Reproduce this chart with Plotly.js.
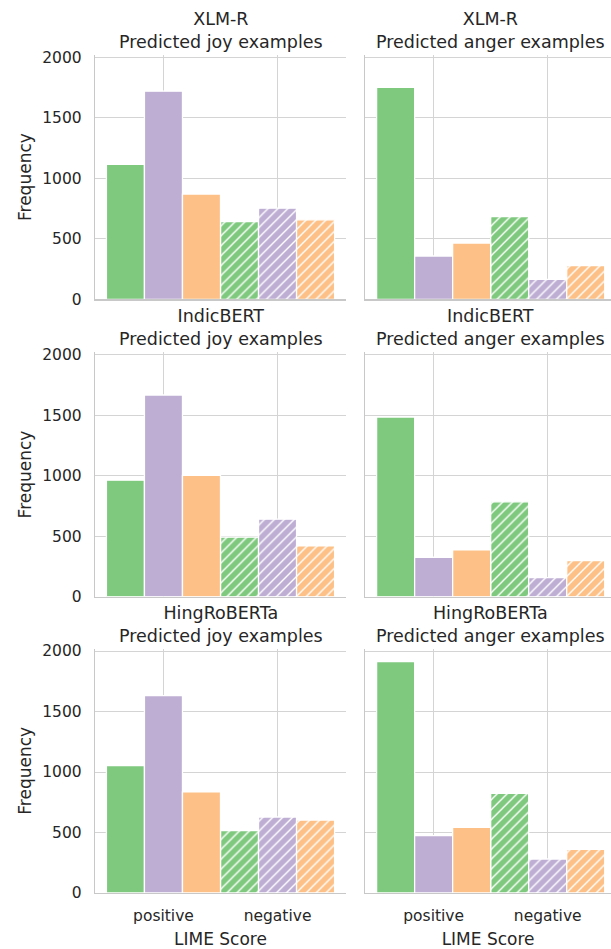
<!DOCTYPE html>
<html>
<head>
<meta charset="utf-8">
<script src="https://cdn.plot.ly/plotly-3.0.1.min.js"></script>
<style>
  html, body { margin: 0; padding: 0; background: #ffffff; overflow: hidden; }
  #chart { width: 611px; height: 949px; }
</style>
</head>
<body>
<div id="chart"></div>
<script>
// ---- data ----
const categories = ['positive', 'negative'];
const models = ['XLM-R', 'IndicBERT', 'HingRoBERTa'];
const classTitles = ['Predicted joy examples', 'Predicted anger examples'];
const seriesColors = ['#7fc97f', '#beaed4', '#fdc086'];

// each array: [positive, negative]
const xlmrJoyGreen = [1115, 643];
const xlmrJoyPurple = [1720, 753];
const xlmrJoyOrange = [870, 657];
const xlmrAngerGreen = [1752, 683];
const xlmrAngerPurple = [358, 165];
const xlmrAngerOrange = [465, 278];

const indicJoyGreen = [963, 492];
const indicJoyPurple = [1667, 641];
const indicJoyOrange = [1002, 420];
const indicAngerGreen = [1485, 784];
const indicAngerPurple = [326, 157];
const indicAngerOrange = [387, 298];

const hingJoyGreen = [1052, 515];
const hingJoyPurple = [1631, 628];
const hingJoyOrange = [835, 603];
const hingAngerGreen = [1912, 824];
const hingAngerPurple = [474, 281];
const hingAngerOrange = [543, 361];

const panels = [
  [xlmrJoyGreen, xlmrJoyPurple, xlmrJoyOrange],
  [xlmrAngerGreen, xlmrAngerPurple, xlmrAngerOrange],
  [indicJoyGreen, indicJoyPurple, indicJoyOrange],
  [indicAngerGreen, indicAngerPurple, indicAngerOrange],
  [hingJoyGreen, hingJoyPurple, hingJoyOrange],
  [hingAngerGreen, hingAngerPurple, hingAngerOrange]
];
const yTicks = [0, 500, 1000, 1500, 2000];

// ---- layout geometry ----
const W = 611, H = 949;
const FONT = 'DejaVu Sans, sans-serif';
const TXT = '#262626';
const GRID = '#d4d4d4';
const LINE = '#c8c8c8';
const xDomains = [[95 / W, 346 / W], [365.2 / W, 1.0]];
const xRanges = [[-0.6, 1.6], [-0.6, 1.555]];
const rowBottoms = [299.3, 596.7, 893.0];
const plotH = 244.4;
const yDomains = rowBottoms.map(b => [(H - b) / H, (H - (b - plotH)) / H]);

const data = [];
const layout = {
  width: W, height: H,
  margin: {l: 0, r: 0, t: 0, b: 0},
  paper_bgcolor: '#ffffff', plot_bgcolor: '#ffffff',
  barmode: 'group', bargap: 0, bargroupgap: 0,
  showlegend: false,
  font: {family: FONT, color: TXT, size: 15},
  annotations: []
};

panels.forEach((series, p) => {
  const row = Math.floor(p / 2), col = p % 2;
  const idx = p + 1;
  const xa = idx === 1 ? 'x' : 'x' + idx;
  const ya = idx === 1 ? 'y' : 'y' + idx;
  series.forEach((vals, s) => {
    data.push({
      type: 'bar', x: categories, y: vals, xaxis: xa, yaxis: ya,
      marker: {
        color: seriesColors[s],
        line: {color: '#ffffff', width: 1.3},
        pattern: {shape: ['', '/'], fgcolor: '#ffffff', bgcolor: seriesColors[s],
                  size: 7, solidity: 0.2, fillmode: 'replace'}
      },
      hoverinfo: 'y'
    });
  });
  const bottom = row === 2;
  layout['xaxis' + (idx === 1 ? '' : idx)] = {
    domain: xDomains[col], anchor: ya, type: 'category',
    categoryorder: 'array', categoryarray: categories,
    range: xRanges[col], showgrid: true, gridcolor: GRID, gridwidth: 1,
    showline: true, linecolor: LINE, linewidth: 1.2, zeroline: false,
    showticklabels: bottom, ticks: bottom ? 'outside' : '', ticklen: 8,
    tickcolor: 'rgba(0,0,0,0)', tickfont: {size: 15.5, color: TXT, family: FONT},
    title: bottom ? {text: 'LIME Score', font: {size: 17, color: TXT, family: FONT}, standoff: 9} : {text: ''},
    automargin: false, fixedrange: true
  };
  layout['yaxis' + (idx === 1 ? '' : idx)] = {
    domain: yDomains[row], anchor: xa, range: [0, 2020],
    tickmode: 'array', tickvals: yTicks, ticktext: yTicks.map(String),
    showgrid: true, gridcolor: GRID, gridwidth: 1,
    showline: true, linecolor: LINE, linewidth: 1.2, zeroline: false,
    showticklabels: col === 0, ticks: col === 0 ? 'outside' : '', ticklen: 9,
    tickcolor: 'rgba(0,0,0,0)', tickfont: {size: 15.5, color: TXT, family: FONT},
    title: col === 0 ? {text: 'Frequency', font: {size: 17, color: TXT, family: FONT}, standoff: 6} : {text: ''},
    automargin: false, fixedrange: true
  };
  const cx = col === 0 ? (95 + 346) / 2 / W : (365.2 + 616) / 2 / W;
  layout.annotations.push({
    text: models[row] + '<br>' + classTitles[col],
    xref: 'paper', yref: 'paper', x: cx, y: yDomains[row][1],
    xanchor: 'center', yanchor: 'bottom', yshift: 1, showarrow: false,
    font: {size: 17.5, color: TXT, family: FONT}
  });
});

Plotly.newPlot('chart', data, layout, {displayModeBar: false, staticPlot: true});
</script>
</body>
</html>
